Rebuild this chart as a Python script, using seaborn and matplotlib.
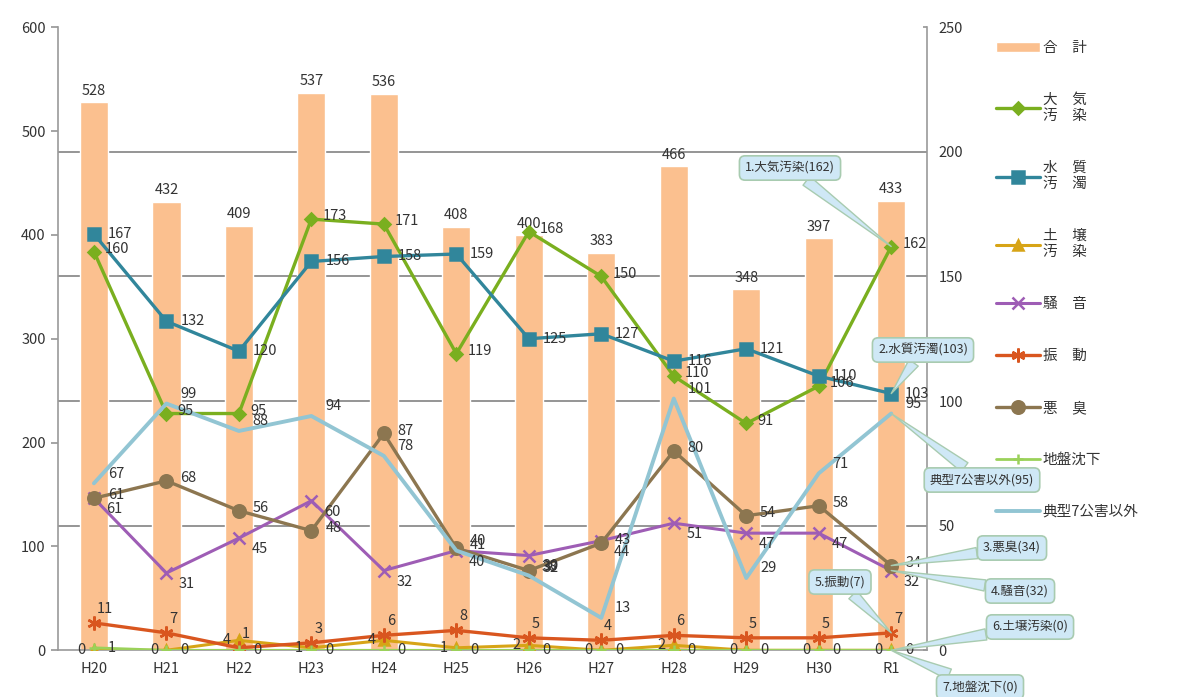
import numpy as np
import seaborn as sns
import matplotlib.pyplot as plt
from matplotlib.ticker import FixedLocator

years = ["H20", "H21", "H22", "H23", "H24", "H25", "H26", "H27", "H28", "H29", "H30", "R1"]
total = [528, 432, 409, 537, 536, 408, 400, 383, 466, 348, 397, 433]
air = [160, 95, 95, 173, 171, 119, 168, 150, 110, 91, 106, 162]
water = [167, 132, 120, 156, 158, 159, 125, 127, 116, 121, 110, 103]
soil = [0, 0, 4, 1, 4, 1, 2, 0, 2, 0, 0, 0]
noise = [61, 31, 45, 60, 32, 40, 38, 44, 51, 47, 47, 32]
vib = [11, 7, 1, 3, 6, 8, 5, 4, 6, 5, 5, 7]
odor = [61, 68, 56, 48, 87, 41, 32, 43, 80, 54, 58, 34]
subsid = [1, 0, 0, 0, 0, 0, 0, 0, 0, 0, 0, 0]
other = [67, 99, 88, 94, 78, 40, 30, 13, 101, 29, 71, 95]

sns.set_theme(style="white")
plt.rcParams['font.family'] = ['Noto Sans CJK JP', 'DejaVu Sans']

fig, ax = plt.subplots(figsize=(11.77, 6.97), dpi=100)
fig.subplots_adjust(left=0.049, right=0.788, bottom=0.067, top=0.961)

x = np.arange(len(years))
bar_color = "#FBC08F"
sns.barplot(x=years, y=total, color=bar_color, width=0.39, ax=ax,
            saturation=1, label="合　計", zorder=2)
if ax.get_legend() is not None:
    ax.get_legend().remove()
ax.set_xlim(-0.5, 11.5)
ax.set_ylim(0, 600)
ax.set_yticks(range(0, 601, 100))
ax.yaxis.set_minor_locator(FixedLocator([120, 240, 360, 480, 600]))
ax.grid(which="minor", axis="y", color="#8c8c8c", lw=1.3, zorder=0)
ax.set_axisbelow(True)
ax.tick_params(axis="y", which="minor", length=0)
ax.tick_params(axis="both", which="major", length=5, color="#999999",
               labelsize=10.5, labelcolor="#333333", direction="out")
for s in ["top", "right"]:
    ax.spines[s].set_visible(False)
for s in ["left", "bottom"]:
    ax.spines[s].set_color("#999999")
    ax.spines[s].set_linewidth(1.2)

for i, v in enumerate(total):
    ax.annotate(str(v), (i, v), xytext=(0, 3), textcoords="offset points",
                ha="center", va="bottom", fontsize=10.5, color="#333333")

ax2 = ax.twinx()
ax2.set_ylim(0, 250)
ax2.set_yticks(range(0, 251, 50))
ax2.tick_params(axis="y", length=3, color="#999999", labelsize=10.5,
                labelcolor="#333333", pad=8, direction="in")
for s in ["top", "left", "bottom"]:
    ax2.spines[s].set_visible(False)
ax2.spines["right"].set_color("#999999")
ax2.spines["right"].set_linewidth(1.2)

series = [
    ("大　気\n汚　染", air, "#7AAF1F", "D", 6, 2.4, (8, 2), "left"),
    ("水　質\n汚　濁", water, "#31869B", "s", 9, 2.4, (10, 0), "left"),
    ("土　壌\n汚　染", soil, "#D7A416", "^", 7, 2.2, (-6, 0), "right"),
    ("騒　音", noise, "#9E5DB5", "x", 8, 2.2, (9, -8), "left"),
    ("振　動", vib, "#D9561F", (6, 2, 0), 10, 2.4, (2, 10), "left"),
    ("悪　臭", odor, "#8C7650", "o", 9, 2.4, (10, 2), "left"),
    ("地盤沈下", subsid, "#9BD15A", "+", 7, 2.0, (10, 0), "left"),
    ("典型7公害以外", other, "#92C5D3", None, 0, 2.8, (10, 7), "left"),
]

for name, vals, col, mk, ms, lw, off, ha in series:
    sns.lineplot(x=x, y=vals, ax=ax2, color=col, marker=mk, markersize=ms,
                 markeredgecolor=col, markeredgewidth=1.8, linewidth=lw,
                 label=name, sort=False, legend=False)
    for i, v in enumerate(vals):
        ax2.annotate(str(v), (i, v), xytext=off, textcoords="offset points",
                     ha=ha, va="center", fontsize=10.5, color="#333333")

ax.set_xlabel("")
ax.set_ylabel("")
ax2.set_ylabel("")

h1, l1 = ax.get_legend_handles_labels()
h2, l2 = ax2.get_legend_handles_labels()
leg = fig.legend(h1 + h2, l1 + l2, loc="upper left", bbox_to_anchor=(0.835, 0.96),
                 frameon=False, fontsize=10.5, labelspacing=2.6, handlelength=3,
                 handletextpad=0.2)
for t in leg.get_texts():
    t.set_color("#333333")

box = dict(boxstyle="round,pad=0.45", fc="#CFE8F6", ec="#A8CBB0", lw=1.2)
arrow = dict(arrowstyle="wedge,tail_width=0.9,shrink_factor=0.5", fc="#CFE8F6",
             ec="#A8CBB0", lw=1.0, shrinkA=0, shrinkB=0)
callouts = [
    ("1.大気汚染(162)", air[11], (790, 529)),
    ("2.水質汚濁(103)", water[11], (923, 347)),
    ("典型7公害以外(95)", other[11], (982, 217)),
    ("3.悪臭(34)", odor[11], (1012, 149)),
    ("4.騒音(32)", noise[11], (1020, 106)),
    ("5.振動(7)", vib[11], (840, 115)),
    ("6.土壌汚染(0)", soil[11], (1030, 70)),
    ("7.地盤沈下(0)", subsid[11], (980, 10)),
]
for txt, v, pos in callouts:
    ax2.annotate(txt, (11, v), xytext=pos, textcoords="figure pixels",
                 ha="center", va="center", fontsize=9, color="#333333",
                 bbox=box, arrowprops=arrow, zorder=5, annotation_clip=False)

fig.savefig("out.png", dpi=100)
